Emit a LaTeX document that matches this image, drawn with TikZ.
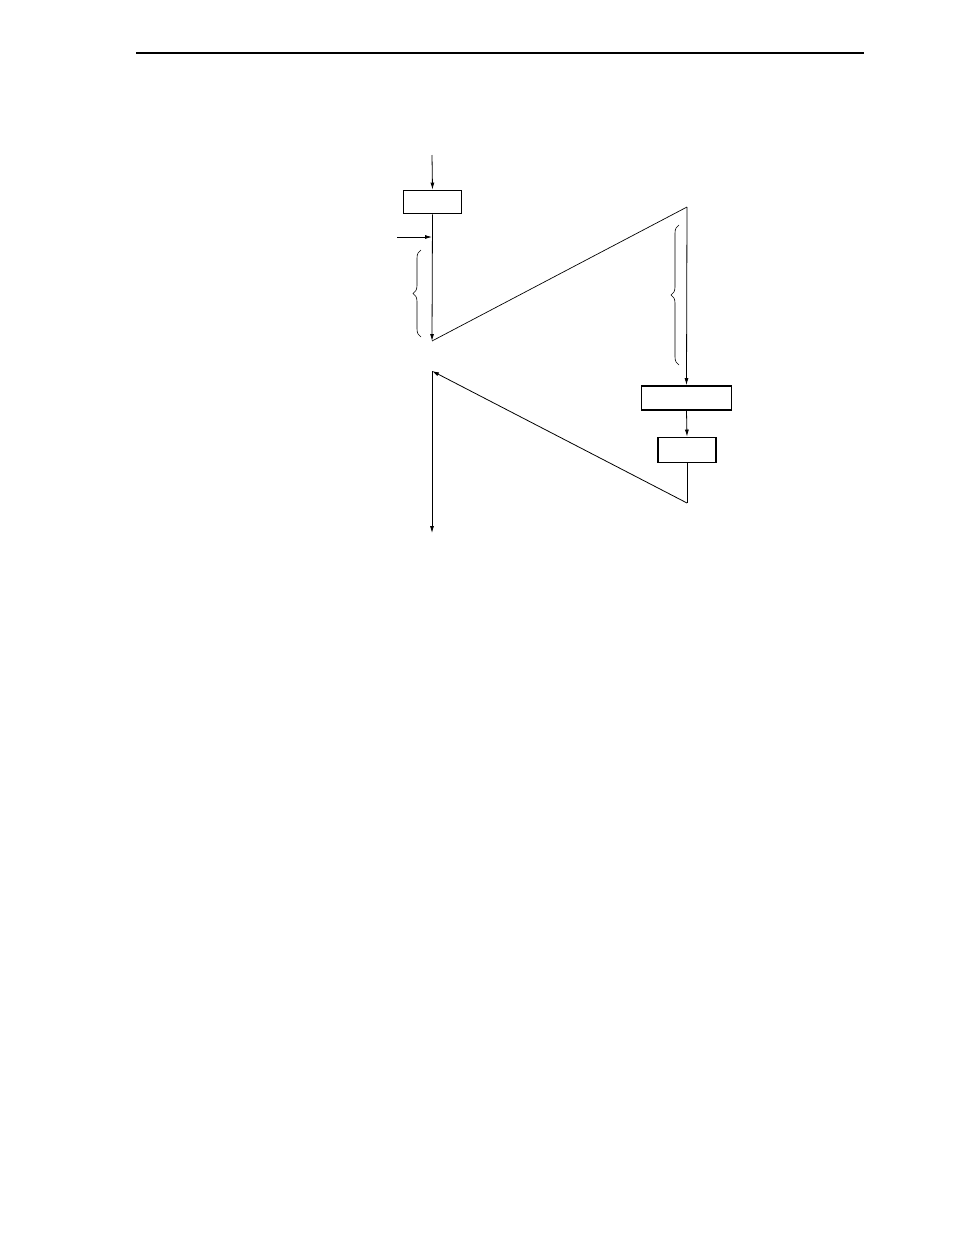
\documentclass[tikz,border=0pt]{standalone}
\usetikzlibrary{arrows.meta,decorations.pathreplacing}
\begin{document}
\begin{tikzpicture}[x=1pt,y=-1pt,
  flow/.style={line width=0.8pt, -{Latex[length=7pt,width=4pt]}},
  plain/.style={line width=0.7pt},
  boxnode/.style={draw, line width=1.8pt, inner sep=0pt, minimum width=#1},
  bracenode/.style={line width=0.6pt, decorate, decoration={brace, amplitude=8pt}}]
\useasboundingbox (0,0) rectangle (954,1235);
% header rule
\coordinate (hl) at (136,53);
\coordinate (hr) at (864,53);
\draw[line width=1.1pt] (hl) -- (hr);
% nodes
\coordinate (start) at (432,155);
\node[boxnode=58pt, minimum height=23pt] (topbox) at (432.5,202) {};
\coordinate (side) at (397,237);
\coordinate (sidehit) at (432,237);
\coordinate (v1) at (432,341);
\coordinate (v2) at (687,207);
\node[boxnode=90pt, minimum height=24pt] (box1) at (686.5,398) {};
\node[boxnode=58pt, minimum height=25pt] (box2) at (687,450) {};
\coordinate (v3) at (687,503);
\coordinate (v4) at (432,371);
\coordinate (end) at (432,533);
% braces
\coordinate (b1a) at (421,337);
\coordinate (b1b) at (421,250);
\coordinate (b2a) at (679,365);
\coordinate (b2b) at (679,225);
% connectors
\draw[flow] (start) -- (topbox.north);
\draw[flow] (side) -- (sidehit);
\draw[flow] (topbox.south) -- (v1);
\draw[plain] (v1) -- (v2);
\draw[flow] (v2) -- (box1.north);
\draw[flow] (box1.south) -- (box2.north);
\draw[plain] (box2.south) -- (v3);
\draw[flow] (v3) -- (v4);
\draw[flow] (v4) -- (end);
\draw[bracenode] (b1a) -- (b1b);
\draw[bracenode] (b2a) -- (b2b);
\end{tikzpicture}
\end{document}
